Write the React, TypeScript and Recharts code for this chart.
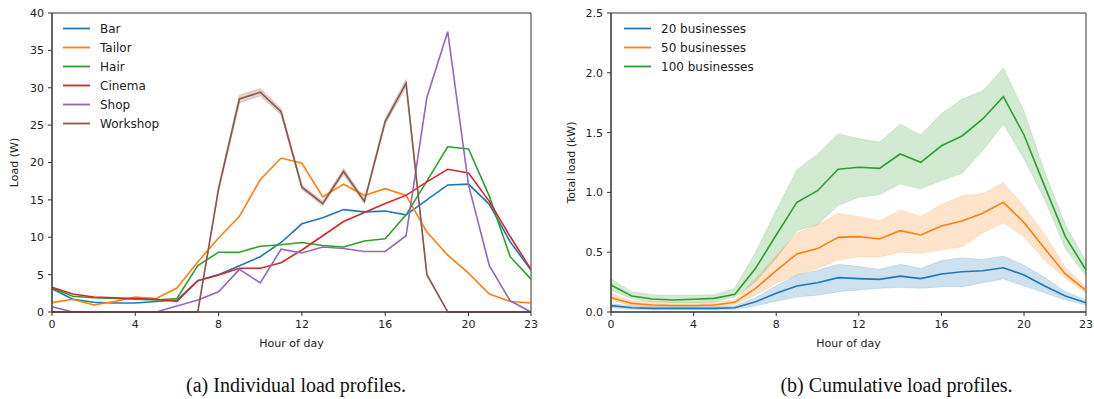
import React from 'react';
import { ComposedChart, Line, Area, XAxis, YAxis, Legend, ReferenceArea } from 'recharts';

const hours = [0, 1, 2, 3, 4, 5, 6, 7, 8, 9, 10, 11, 12, 13, 14, 15, 16, 17, 18, 19, 20, 21, 22, 23];
const xTicks = [0, 4, 8, 12, 16, 20, 23];
const leftYTicks = [0, 5, 10, 15, 20, 25, 30, 35, 40];
const rightYTicks = [0, 0.5, 1.0, 1.5, 2.0, 2.5];

// (a) Individual load profiles, W
const bar = [3.1, 1.7, 1.3, 1.2, 1.2, 1.4, 1.6, 4.2, 5.0, 6.2, 7.4, 9.3, 11.8, 12.6, 13.7, 13.4, 13.5, 13.0, 15.0, 17.0, 17.1, 14.4, 9.4, 5.6];
const tailor = [1.25, 1.7, 0.95, 1.4, 2.0, 1.8, 3.2, 6.7, 9.9, 12.8, 17.7, 20.6, 19.9, 15.4, 17.1, 15.6, 16.5, 15.6, 10.7, 7.6, 5.2, 2.4, 1.4, 1.2];
const hair = [3.2, 2.1, 1.9, 1.8, 1.7, 1.6, 1.8, 6.2, 8.0, 8.0, 8.8, 9.0, 9.3, 8.9, 8.7, 9.5, 9.8, 13.0, 17.5, 22.1, 21.8, 15.5, 7.4, 4.4];
const cinema = [3.3, 2.4, 2.0, 1.9, 1.8, 1.7, 1.4, 4.2, 4.95, 5.85, 5.85, 6.6, 8.3, 10.2, 12.1, 13.3, 14.5, 15.6, 17.4, 19.1, 18.6, 14.8, 10.1, 5.7];
const shop = [0.7, 0, 0, 0, 0, 0, 0.8, 1.6, 2.7, 5.7, 3.9, 8.4, 7.9, 8.7, 8.5, 8.1, 8.1, 10.2, 28.7, 37.5, 17.0, 6.2, 1.5, 0];
const workshop = [0, 0, 0, 0, 0, 0, 0, 0, 16.5, 28.5, 29.4, 26.8, 16.7, 14.5, 18.8, 14.8, 25.5, 30.6, 5.0, 0, 0, 0, 0, 0];
const workshopLow = [0, 0, 0, 0, 0, 0, 0, 0, 16.1, 28.0, 28.9, 26.4, 16.4, 14.2, 18.4, 14.5, 25.1, 30.1, 4.8, 0, 0, 0, 0, 0];
const workshopHigh = [0, 0, 0, 0, 0, 0, 0, 0, 16.9, 29.0, 29.9, 27.2, 17.0, 14.8, 19.2, 15.1, 25.9, 31.1, 5.2, 0, 0, 0, 0, 0];

// (b) Cumulative load profiles, kW
const b20 = [0.053, 0.036, 0.03, 0.03, 0.03, 0.03, 0.036, 0.086, 0.156, 0.217, 0.245, 0.287, 0.279, 0.273, 0.30, 0.279, 0.318, 0.337, 0.345, 0.37, 0.309, 0.217, 0.134, 0.078];
const b20Low = [0.035, 0.02, 0.018, 0.018, 0.018, 0.018, 0.022, 0.05, 0.09, 0.125, 0.14, 0.17, 0.184, 0.198, 0.206, 0.198, 0.21, 0.21, 0.245, 0.276, 0.217, 0.16, 0.10, 0.058];
const b20High = [0.07, 0.05, 0.045, 0.045, 0.045, 0.045, 0.05, 0.12, 0.22, 0.31, 0.35, 0.40, 0.38, 0.357, 0.40, 0.365, 0.43, 0.454, 0.44, 0.468, 0.39, 0.29, 0.17, 0.10];
const b50 = [0.12, 0.072, 0.058, 0.054, 0.054, 0.058, 0.081, 0.198, 0.345, 0.485, 0.53, 0.624, 0.63, 0.61, 0.68, 0.644, 0.719, 0.761, 0.825, 0.917, 0.747, 0.53, 0.318, 0.178];
const b50Low = [0.10, 0.05, 0.045, 0.045, 0.045, 0.045, 0.06, 0.14, 0.24, 0.31, 0.365, 0.435, 0.46, 0.46, 0.50, 0.49, 0.52, 0.546, 0.66, 0.747, 0.63, 0.43, 0.28, 0.156];
const b50High = [0.156, 0.095, 0.085, 0.08, 0.08, 0.085, 0.10, 0.28, 0.47, 0.66, 0.73, 0.825, 0.797, 0.764, 0.853, 0.797, 0.90, 0.97, 0.99, 1.08, 0.88, 0.65, 0.373, 0.21];
const b100 = [0.226, 0.134, 0.109, 0.100, 0.106, 0.114, 0.148, 0.365, 0.644, 0.917, 1.014, 1.193, 1.210, 1.201, 1.321, 1.252, 1.390, 1.472, 1.614, 1.80, 1.48, 1.05, 0.63, 0.351];
const b100Low = [0.18, 0.11, 0.085, 0.08, 0.08, 0.085, 0.125, 0.25, 0.45, 0.68, 0.73, 0.89, 0.96, 0.98, 1.07, 1.03, 1.10, 1.16, 1.35, 1.57, 1.28, 0.94, 0.53, 0.30];
const b100High = [0.28, 0.17, 0.145, 0.14, 0.14, 0.145, 0.20, 0.50, 0.85, 1.19, 1.32, 1.49, 1.45, 1.42, 1.57, 1.48, 1.66, 1.78, 1.85, 2.04, 1.68, 1.17, 0.73, 0.42];

const C = {
  blue: '#1f77b4',
  orange: '#ff7f0e',
  green: '#2ca02c',
  red: '#d62728',
  purple: '#9467bd',
  brown: '#8c564b',
};

const leftSeries = [
  { key: 'bar', name: 'Bar', color: C.blue },
  { key: 'tailor', name: 'Tailor', color: C.orange },
  { key: 'hair', name: 'Hair', color: C.green },
  { key: 'cinema', name: 'Cinema', color: C.red },
  { key: 'shop', name: 'Shop', color: C.purple },
  { key: 'workshop', name: 'Workshop', color: C.brown },
];
const rightSeries = [
  { key: 'b20', band: 'b20Band', name: '20 businesses', color: C.blue },
  { key: 'b50', band: 'b50Band', name: '50 businesses', color: C.orange },
  { key: 'b100', band: 'b100Band', name: '100 businesses', color: C.green },
];

const leftData = hours.map((h, i) => ({
  h,
  bar: bar[i],
  tailor: tailor[i],
  hair: hair[i],
  cinema: cinema[i],
  shop: shop[i],
  workshop: workshop[i],
  workshopBand: [workshopLow[i], workshopHigh[i]],
}));

const rightData = hours.map((h, i) => ({
  h,
  b20: b20[i],
  b50: b50[i],
  b100: b100[i],
  b20Band: [b20Low[i], b20High[i]],
  b50Band: [b50Low[i], b50High[i]],
  b100Band: [b100Low[i], b100High[i]],
}));

const FONT = '"DejaVu Sans", Verdana, sans-serif';
const AXIS = '#333';
const TEXT = '#222';

const tickStyle = { fontSize: 11, fill: TEXT, fontFamily: FONT };

type Item = { name: string; color: string };
const LegendBox = ({ items }: { items: Item[] }) => (
  <div style={{ fontFamily: FONT, fontSize: 12, color: TEXT }}>
    {items.map((it) => (
      <div key={it.name} style={{ display: 'flex', alignItems: 'center', height: 19 }}>
        <svg width={38} height={19} style={{ display: 'block' }}>
          <line x1={1} y1={9.5} x2={28} y2={9.5} stroke={it.color} strokeWidth={1.8} />
        </svg>
        <span style={{ whiteSpace: 'nowrap' }}>{it.name}</span>
      </div>
    ))}
  </div>
);

const LeftChart = () => (
  <ComposedChart
    width={545}
    height={360}
    data={leftData}
    margin={{ top: 13, right: 14, bottom: 0, left: 0 }}
  >
    <XAxis
      dataKey="h"
      type="number"
      domain={[0, 23]}
      ticks={xTicks}
      interval={0}
      height={48}
      tickSize={4}
      tickMargin={4}
      tick={tickStyle}
      stroke={AXIS}
      axisLine={{ stroke: AXIS }}
      tickLine={{ stroke: AXIS }}
      label={{ value: 'Hour of day', position: 'insideBottom', offset: 13, style: { fontSize: 11, fill: TEXT, fontFamily: FONT } }}
    />
    <YAxis
      type="number"
      domain={[0, 40]}
      ticks={leftYTicks}
      interval={0}
      width={52}
      tickSize={4}
      tickMargin={4}
      tick={tickStyle}
      axisLine={{ stroke: AXIS }}
      tickLine={{ stroke: AXIS }}
      label={{ value: 'Load (W)', angle: -90, position: 'insideLeft', offset: 14, style: { fontSize: 11, fill: TEXT, fontFamily: FONT, textAnchor: 'middle' } }}
    />
    <Area
      dataKey="workshopBand"
      stroke={C.brown}
      strokeOpacity={0.25}
      strokeWidth={1}
      fill={C.brown}
      fillOpacity={0.25}
      isAnimationActive={false}
      legendType="none"
      activeDot={false}
    />
    {leftSeries.map((s) => (
      <Line
        key={s.key}
        dataKey={s.key}
        name={s.name}
        stroke={s.color}
        strokeWidth={1.6}
        dot={false}
        activeDot={false}
        type="linear"
        isAnimationActive={false}
      />
    ))}
    <ReferenceArea x1={0} x2={23} y1={0} y2={40} fill="none" stroke={AXIS} strokeWidth={1} ifOverflow="visible" />
    <Legend
      layout="vertical"
      align="center"
      verticalAlign="middle"
      wrapperStyle={{ left: 62, top: 19, width: 'auto' }}
      content={() => <LegendBox items={leftSeries} />}
    />
  </ComposedChart>
);

const RightChart = () => (
  <ComposedChart
    width={539}
    height={360}
    data={rightData}
    margin={{ top: 13, right: 8, bottom: 0, left: 0 }}
  >
    <XAxis
      dataKey="h"
      type="number"
      domain={[0, 23]}
      ticks={xTicks}
      interval={0}
      height={48}
      tickSize={4}
      tickMargin={4}
      tick={tickStyle}
      axisLine={{ stroke: AXIS }}
      tickLine={{ stroke: AXIS }}
      label={{ value: 'Hour of day', position: 'insideBottom', offset: 13, style: { fontSize: 11, fill: TEXT, fontFamily: FONT } }}
    />
    <YAxis
      type="number"
      domain={[0, 2.5]}
      ticks={rightYTicks}
      interval={0}
      width={56}
      tickSize={4}
      tickMargin={4}
      tick={tickStyle}
      tickFormatter={(v: number) => v.toFixed(1)}
      axisLine={{ stroke: AXIS }}
      tickLine={{ stroke: AXIS }}
      label={{ value: 'Total load (kW)', angle: -90, position: 'insideLeft', offset: 16, style: { fontSize: 11, fill: TEXT, fontFamily: FONT, textAnchor: 'middle' } }}
    />
    {rightSeries.map((s) => (
      <Area
        key={s.band}
        dataKey={s.band}
        stroke={s.color}
        strokeOpacity={0.15}
        strokeWidth={1}
        fill={s.color}
        fillOpacity={0.22}
        isAnimationActive={false}
        legendType="none"
        activeDot={false}
      />
    ))}
    {rightSeries.map((s) => (
      <Line
        key={s.key}
        dataKey={s.key}
        name={s.name}
        stroke={s.color}
        strokeWidth={1.6}
        dot={false}
        activeDot={false}
        type="linear"
        isAnimationActive={false}
      />
    ))}
    <ReferenceArea x1={0} x2={23} y1={0} y2={2.5} fill="none" stroke={AXIS} strokeWidth={1} ifOverflow="visible" />
    <Legend
      layout="vertical"
      align="center"
      verticalAlign="middle"
      wrapperStyle={{ left: 68, top: 19, width: 'auto' }}
      content={() => <LegendBox items={rightSeries} />}
    />
  </ComposedChart>
);

const CAPTION_FONT = '"Liberation Serif", "Times New Roman", serif';

export default function App() {
  return (
    <div
      style={{
        position: 'absolute',
        left: 0,
        top: 0,
        width: 1094,
        height: 399,
        background: '#fff',
        overflow: 'hidden',
      }}
    >
      <div style={{ position: 'absolute', left: 0, top: 0 }}>
        <LeftChart />
      </div>
      <div style={{ position: 'absolute', left: 555, top: 0 }}>
        <RightChart />
      </div>
      <svg width={1094} height={399} style={{ position: 'absolute', left: 0, top: 0, pointerEvents: 'none' }}>
        <text x={296} y={392} textAnchor="middle" fontFamily={CAPTION_FONT} fontSize={20} fill="#111">
          (a) Individual load profiles.
        </text>
        <text x={896.5} y={392} textAnchor="middle" fontFamily={CAPTION_FONT} fontSize={20} fill="#111">
          (b) Cumulative load profiles.
        </text>
      </svg>
    </div>
  );
}
